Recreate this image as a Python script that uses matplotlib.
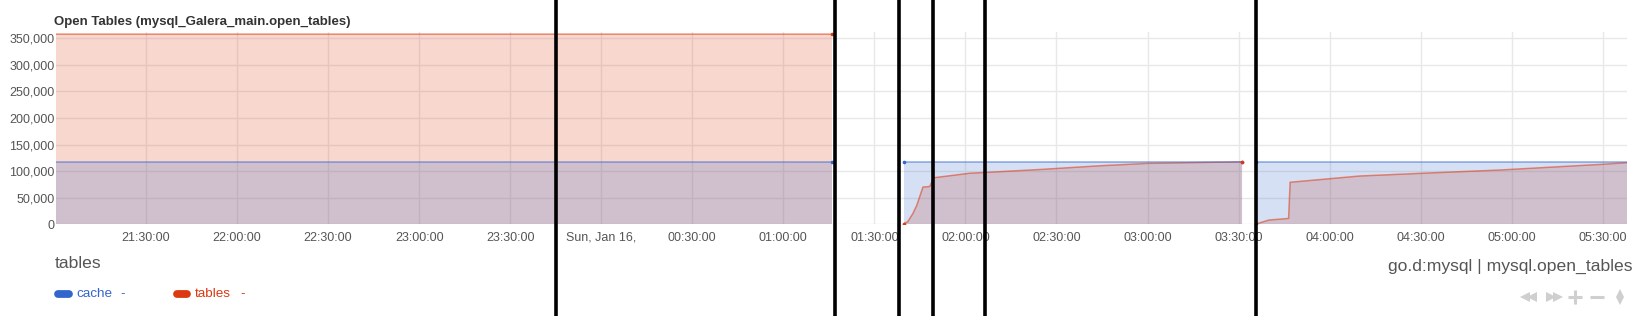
import numpy as np
import pandas as pd
import matplotlib
matplotlib.use('Agg')
import matplotlib.pyplot as plt
import matplotlib.dates as mdates
from matplotlib.lines import Line2D
from matplotlib.ticker import FuncFormatter, MultipleLocator

nan = np.nan
times = ["2022-01-15 21:00:00", "2022-01-16 01:16:00", "2022-01-16 01:28:00",
         "2022-01-16 01:39:50", "2022-01-16 01:41:00", "2022-01-16 01:42:40",
         "2022-01-16 01:44:00", "2022-01-16 01:46:00", "2022-01-16 01:48:15",
         "2022-01-16 01:49:35", "2022-01-16 02:01:25", "2022-01-16 02:06:45",
         "2022-01-16 02:24:30", "2022-01-16 02:44:20", "2022-01-16 03:00:00",
         "2022-01-16 03:31:10", "2022-01-16 03:33:40",
         "2022-01-16 03:35:45", "2022-01-16 03:40:00", "2022-01-16 03:46:30",
         "2022-01-16 03:47:00", "2022-01-16 04:10:00", "2022-01-16 04:33:00",
         "2022-01-16 04:56:00", "2022-01-16 05:30:00", "2022-01-16 05:38:00"]
cache = [118000, 118000, nan,
         118000, 118000, 118000, 118000, 118000, 118000, 118000, 118000,
         118000, 118000, 118000, 118000, 118000, nan,
         118000, 118000, 118000, 118000, 118000, 118000, 118000, 118000, 118000]
tables = [357500, 357500, nan,
          1500, 5000, 20000, 36000, 70000, 71000, 87500, 96000,
          97500, 103000, 110000, 114500, 117500, nan,
          500, 8000, 11000, 79000, 90800, 96500, 102000, 112800, 115800]

# the black vertical bars drawn over the screenshot
overlay_times = ["2022-01-15 23:45:00", "2022-01-16 01:16:55", "2022-01-16 01:38:12",
                 "2022-01-16 01:49:25", "2022-01-16 02:06:25", "2022-01-16 03:35:45"]

t = pd.to_datetime(times)
cache = np.array(cache, dtype=float)
tables = np.array(tables, dtype=float)

BLUE = '#3366CC'
RED = '#DC3912'
W, H = 1638, 316

plt.rcParams['font.family'] = 'Liberation Sans'

fig = plt.figure(figsize=(W / 100, H / 100), dpi=100)
fig.set_facecolor('white')
ax = fig.add_axes([56 / W, 1 - 224.3 / H, (1627 - 56) / W, (224.3 - 32) / H])
ax.set_facecolor('white')

# fills (not stacked, overlapping)
ax.fill_between(t, 0, tables, color=RED, alpha=0.2, lw=0, zorder=2)
ax.fill_between(t, 0, cache, color=BLUE, alpha=0.2, lw=0, zorder=3)
ax.plot(t, tables, color=RED, alpha=0.55, lw=1.1, zorder=4)
ax.plot(t, cache, color=BLUE, alpha=0.55, lw=1.1, zorder=4)

# dots at the edges of the gaps
def edge_points(vals):
    idx = []
    for i, v in enumerate(vals):
        if np.isnan(v):
            continue
        prev_nan = i > 0 and np.isnan(vals[i - 1])
        next_nan = i < len(vals) - 1 and np.isnan(vals[i + 1])
        if prev_nan or next_nan:
            idx.append(i)
    return idx

ci = edge_points(cache)
ti = edge_points(tables)
ax.plot(t[ci], cache[ci], 'o', ms=2.6, color=BLUE, mew=0, zorder=5)
ax.plot(t[ti], tables[ti], 'o', ms=2.6, color=RED, mew=0, zorder=6)

ax.set_xlim(pd.Timestamp("2022-01-15 21:00:20"), pd.Timestamp("2022-01-16 05:38:00"))
ax.set_ylim(0, 361500)

ax.yaxis.set_major_locator(MultipleLocator(50000))
ax.yaxis.set_major_formatter(FuncFormatter(lambda v, p: f"{int(v):,}"))
ax.xaxis.set_major_locator(mdates.MinuteLocator(byminute=[0, 30]))

def xfmt(v, p):
    d = mdates.num2date(v)
    if d.hour == 0 and d.minute == 0:
        return d.strftime("%a, %b %d,")
    return d.strftime("%H:%M:%S")

ax.xaxis.set_major_formatter(FuncFormatter(xfmt))

ax.grid(True, color='#e8e8e8', lw=1, zorder=1)
ax.set_axisbelow(True)
for s in ax.spines.values():
    s.set_visible(False)
ax.tick_params(axis='both', length=0, labelsize=9, labelcolor='#555555')
ax.tick_params(axis='y', pad=1)
ax.tick_params(axis='x', pad=5.5)

# overlay black bars
for ot in overlay_times:
    ax.axvline(pd.Timestamp(ot), ymin=-1, ymax=2, color='black', lw=2.6,
               clip_on=False, zorder=10)

def fx(x):
    return x / W

def fy(y):
    return 1 - y / H

fig.text(fx(54), fy(21.5), "Open Tables (mysql_Galera_main.open_tables)", fontsize=9.5,
         fontweight='bold', color='#333333', va='center', ha='left')
fig.text(fx(55), fy(264), "tables", fontsize=12.6, color='#555555', va='center', ha='left')
fig.text(fx(1632), fy(266), "go.d:mysql | mysql.open_tables", fontsize=12.6,
         color='#555555', va='center', ha='right')

# legend pills
for x0, x1, col, label, lx, dx in [(58.2, 68.8, BLUE, "cache", 76.7, 120.7),
                                   (176.5, 186.5, RED, "tables", 195, 240)]:
    fig.add_artist(Line2D([fx(x0), fx(x1)], [fy(294), fy(294)], transform=fig.transFigure,
                          color=col, lw=5.6, solid_capstyle='round'))
    fig.text(fx(lx), fy(294), label, fontsize=9.7, color=col, va='center', ha='left')
    fig.text(fx(dx), fy(294), "-", fontsize=9.7, color=col, va='center', ha='left')

# toolbar icons bottom right
ic = '#cfcfcf'
for x, m in [(1525, '<'), (1532, '<'), (1551, '>'), (1558, '>')]:
    fig.add_artist(Line2D([fx(x)], [fy(296.7)], transform=fig.transFigure, marker=m,
                          ms=7, color=ic, mew=0, ls='none'))
fig.add_artist(Line2D([fx(1575)], [fy(296.7)], transform=fig.transFigure, marker='+',
                      ms=10, color=ic, mew=2.2, ls='none'))
fig.add_artist(Line2D([fx(1597)], [fy(296.7)], transform=fig.transFigure, marker='_',
                      ms=10, color=ic, mew=2.2, ls='none'))
fig.add_artist(Line2D([fx(1620)], [fy(293)], transform=fig.transFigure, marker='^',
                      ms=5.5, color=ic, mew=0, ls='none'))
fig.add_artist(Line2D([fx(1620)], [fy(300.5)], transform=fig.transFigure, marker='v',
                      ms=5.5, color=ic, mew=0, ls='none'))

fig.savefig('out.png', dpi=100, facecolor='white')
